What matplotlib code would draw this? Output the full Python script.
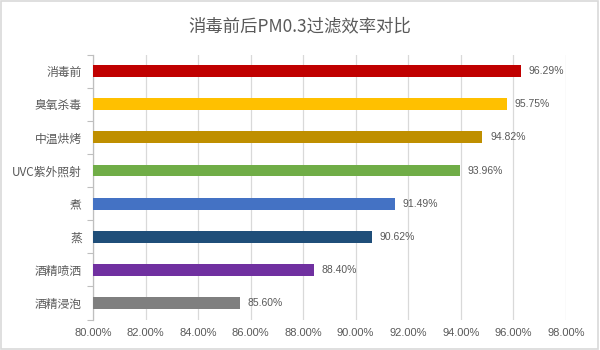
import matplotlib
matplotlib.use("Agg")
import matplotlib.pyplot as plt
from matplotlib.patches import Rectangle
import numpy as np

plt.rcParams['font.family'] = ['Noto Sans CJK SC', 'DejaVu Sans']

categories = ["消毒前", "臭氧杀毒", "中温烘烤", "UVC紫外照射", "煮", "蒸", "酒精喷洒", "酒精浸泡"]
values = [96.29, 95.75, 94.82, 93.96, 91.49, 90.62, 88.40, 85.60]
colors = ["#C00000", "#FFC000", "#BF8F00", "#70AD47", "#4472C4", "#1F4E79", "#7030A0", "#7F7F7F"]
x_ticks = [80, 82, 84, 86, 88, 90, 92, 94, 96, 98]

text_color = "#595959"

fig = plt.figure(figsize=(6, 3.5), dpi=100)
fig.patches.append(Rectangle((0.002, 0.003), 0.995, 0.993, transform=fig.transFigure,
                             fill=False, edgecolor="#D9D9D9", linewidth=1.2))
ax = fig.add_axes([0.155, 0.087, 0.788, 0.757])

base = 80
y = np.arange(len(categories))
ax.barh(y, np.array(values) - base, left=base, height=0.36, color=colors, zorder=3)

for yi, v in zip(y, values):
    ax.text(v + 0.3, yi, f"{v:.2f}%", va="center", ha="left", fontsize=7.5,
            color=text_color, family=["Liberation Sans", "DejaVu Sans"])

ax.set_xlim(80, 98)
ax.set_ylim(len(categories) - 0.5, -0.5)
ax.set_xticks(x_ticks)
ax.set_xticklabels([f"{t:.2f}%" for t in x_ticks], fontsize=8, color=text_color,
                   family=["Liberation Sans", "DejaVu Sans"])
ax.set_yticks(y)
ax.set_yticklabels(categories, fontsize=8.5, color=text_color)
ax.tick_params(axis="x", length=0, pad=6)
ax.tick_params(axis="y", length=0, pad=8)

# category boundary ticks on the left axis
ax.set_yticks(np.arange(-0.5, len(categories), 1), minor=True)
ax.tick_params(axis="y", which="minor", length=4, color="#BFBFBF", width=0.8)

ax.grid(axis="x", color="#D9D9D9", linewidth=0.9, zorder=0)
for s in ["top", "right", "bottom"]:
    ax.spines[s].set_visible(False)
ax.spines["left"].set_color("#BFBFBF")
ax.spines["left"].set_linewidth(0.9)

fig.text(0.5, 0.925, "消毒前后PM0.3过滤效率对比", ha="center", va="center",
         fontsize=12.5, color=text_color)

fig.savefig("out.png", dpi=100)
